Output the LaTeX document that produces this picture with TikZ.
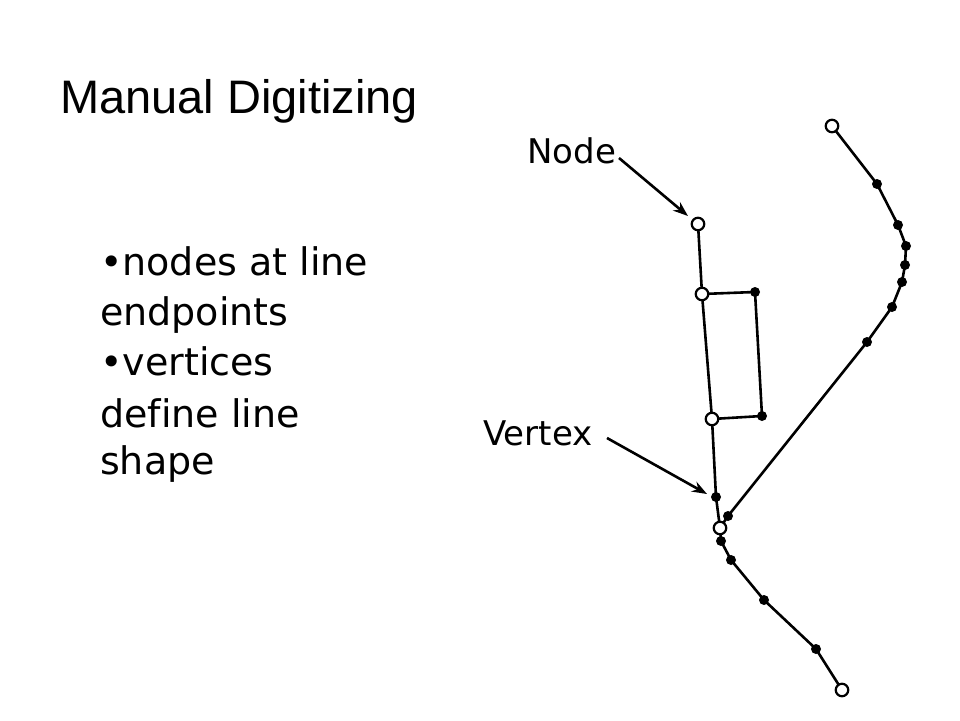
\documentclass[tikz,border=0pt]{standalone}
\usepackage{fontspec}
\setmainfont[Ligatures={NoCommon}]{DejaVu Sans}
\newfontfamily\titlefont{Liberation Sans}
\usetikzlibrary{arrows.meta}
\begin{document}
\begin{tikzpicture}[x=1pt,y=-1pt,
  ln/.style={line width=2.6pt,black},
  opn/.style={circle,draw=black,fill=white,line width=2.2pt,minimum size=12.5pt,inner sep=0pt},
  vtx/.style={circle,fill=black,minimum size=10pt,inner sep=0pt},
  lbl/.style={anchor=base west,inner sep=0pt,font=\fontsize{34}{40}\selectfont},
  txt/.style={anchor=base west,inner sep=0pt,font=\fontsize{38}{50}\selectfont},
  pointer/.style={line width=2.6pt,-{Stealth[length=15pt,width=11pt]}}]
\useasboundingbox (0,0) rectangle (960,720);
% title
\node[anchor=base west,inner sep=0pt,font=\titlefont\fontsize{47}{56}\selectfont] (title) at (60,113) {Manual Digitizing};
% bullets
\node[txt] (t1) at (100,275) {•nodes at line};
\node[txt] (t2) at (100,325) {endpoints};
\node[txt] (t3) at (100,375) {•vertices};
\node[txt] (t4) at (100,427) {define line};
\node[txt] (t5) at (100,474) {shape};
% labels
\node[lbl] (lnode) at (527,163) {Node};
\node[lbl] (lvert) at (483,445) {Vertex};
% coordinates of points
\coordinate (pa) at (698,224);
\coordinate (pb) at (702,294);
\coordinate (pc) at (755,292);
\coordinate (pd) at (762,416);
\coordinate (pe) at (712,419);
\coordinate (pf) at (716,497);
\coordinate (pg) at (720,528);
\coordinate (ph) at (721,541);
\coordinate (pi) at (731,560);
\coordinate (pj) at (764,600);
\coordinate (pk) at (816,649);
\coordinate (pl) at (842,690);
\coordinate (r0) at (832,126);
\coordinate (r1) at (877,184);
\coordinate (r2) at (898,225);
\coordinate (r3) at (906,246);
\coordinate (r4) at (905,265);
\coordinate (r5) at (902,282);
\coordinate (r6) at (892,307);
\coordinate (r7) at (867,342);
\coordinate (r8) at (728,516);
% lines
\draw[ln] (pa) -- (pb) -- (pe) -- (pf) -- (pg) -- (ph) -- (pi) -- (pj) -- (pk) -- (pl);
\draw[ln] (pb) -- (pc) -- (pd) -- (pe);
\draw[ln] (r0) -- (r1) -- (r2) -- (r3) -- (r4) -- (r5) -- (r6) -- (r7) -- (r8) -- (pg);
% vertices
\foreach \p in {pc,pd,pf,ph,pi,pj,pk,r1,r2,r3,r4,r5,r6,r7,r8}
  \node[vtx] (v\p) at (\p) {};
% nodes
\foreach \p in {pa,pb,pe,pg,pl,r0}
  \node[opn] (n\p) at (\p) {};
% pointers
\coordinate (anode) at (619,158);
\coordinate (tnode) at (688,216);
\coordinate (avert) at (607,438);
\coordinate (tvert) at (707,494);
\draw[pointer] (anode) -- (tnode);
\draw[pointer] (avert) -- (tvert);
\end{tikzpicture}
\end{document}
